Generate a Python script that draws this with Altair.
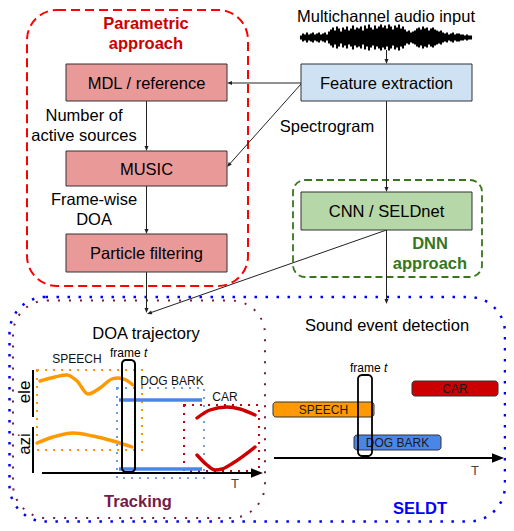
import math
import altair as alt
import pandas as pd

FONT = "Liberation Sans"
W, H = 498, 515

# ---------------- data ----------------
# filled process boxes
box_x1 = [66, 66, 66, 301, 301]
box_x2 = [227, 227, 227, 472, 472]
box_y1 = [64, 151, 234, 64, 192]
box_y2 = [101, 186, 272, 101, 230]
box_fill = ["#ea9999", "#ea9999", "#ea9999", "#cfe2f3", "#b6d7a8"]
box_labels = ["MDL / reference", "MUSIC", "Particle filtering", "Feature extraction", "CNN / SELDnet"]

# connectors (start x, start y, end x, end y) – arrowhead at end
conn_x1 = [301, 301, 146.5, 146.5, 146.5, 386.5, 386.5, 386.5, 386.5]
conn_y1 = [83, 84, 101, 186, 272, 101, 230, 230, 50]
conn_x2 = [227, 227, 146.5, 146.5, 146.5, 386.5, 386.5, 147, 386.5]
conn_y2 = [83, 167, 151, 234, 313, 192, 304, 314, 64]

# time axes
axis_x1 = [42, 274]
axis_y1 = [473, 458]
axis_x2 = [263, 504]
axis_y2 = [473, 458]

# waveform envelope (half amplitude, px) sampled every 2 px from x=301
wave_start = 301
wave_center = 37.5
wave_amp = [2, 4, 3, 5, 3, 4, 5, 3, 4, 5, 3, 4, 5, 3,
            6, 8,
            10, 7, 11, 9, 6, 10, 8, 11, 7, 9, 12, 8, 10,
            9, 11, 7, 12, 9, 13, 10, 8, 12, 9, 11, 13, 10, 12, 9,
            13, 11, 8, 12, 10, 13, 9, 11, 8,
            6, 7, 5, 6, 7,
            9, 10, 8, 11, 9, 10, 7, 9, 10, 8,
            7, 6, 7, 5,
            4, 5, 3, 4, 5, 3, 4, 4, 3,
            3, 2, 3, 2, 2]

# DOA trajectory curves
speech_ele_x = [40, 55, 67, 77, 88, 100, 112, 118, 126, 133]
speech_ele_y = [381, 377, 375, 381, 394, 388, 379, 378, 380, 385]
speech_azi_x = [37, 53, 73, 93, 113, 132]
speech_azi_y = [443, 437, 433, 436, 441, 447]
car_ele_x = [197, 210, 227, 240, 255]
car_ele_y = [418, 410, 407, 409, 415]
car_azi_x = [197, 207, 215, 222, 233, 255]
car_azi_y = [455, 465, 470, 469, 463, 447]
dog_x1 = [119, 119]
dog_x2 = [202, 202]
dog_y = [400, 469]

# ele / azi bars
bar_x = [33, 33]
bar_y1 = [370, 427]
bar_y2 = [417, 473]

# sound event detection bars
sed_labels = ["CAR", "SPEECH", "DOG BARK"]
sed_x1 = [412, 273, 354]
sed_x2 = [498, 374, 441]
sed_y1 = [381, 402, 435]
sed_y2 = [396, 417, 450]
sed_fill = ["#cc0000", "#ff9900", "#4a86e8"]

# ---------------- helpers ----------------
XS = alt.Scale(domain=[8, 506], range=[0, W], nice=False, zero=False)
YS = alt.Scale(domain=[8, 523], range=[0, H], nice=False, zero=False)


def X(f):
    return alt.X(f"{f}:Q", scale=XS, axis=None)


def Y(f):
    return alt.Y(f"{f}:Q", scale=YS, axis=None)


def rects(df, **mark):
    return alt.Chart(df).mark_rect(**mark).encode(
        x=X("x1"), x2=alt.X2("x2:Q"), y=Y("y1"), y2=alt.Y2("y2:Q"))


def outline(x1, x2, y1, y2, color, width, dash, radius):
    df = pd.DataFrame({"x1": [x1], "x2": [x2], "y1": [y1], "y2": [y2]})
    return rects(df, fill="white", fillOpacity=0, stroke=color, strokeWidth=width,
                 strokeDash=dash, cornerRadius=radius)


def rules(df):
    return alt.Chart(df).mark_rule(strokeCap="butt").encode(
        x=X("x1"), x2=alt.X2("x2:Q"), y=Y("y1"), y2=alt.Y2("y2:Q"),
        color=alt.Color("col:N", scale=None),
        strokeWidth=alt.StrokeWidth("w:Q", scale=None))


ARROW = "M0,0L-1,-0.4L-1,0.4Z"


def arrows(x1s, y1s, x2s, y2s, width, size, color):
    seg, head = [], []
    hl = math.sqrt(size) / 2
    for a, b, c, d in zip(x1s, y1s, x2s, y2s):
        ang = math.atan2(d - b, c - a)
        seg.append({"x1": a, "y1": b, "x2": c - math.cos(ang) * hl * 0.6,
                    "y2": d - math.sin(ang) * hl * 0.6, "col": color, "w": width})
        head.append({"x": c, "y": d, "ang": math.degrees(ang) % 360, "sz": size, "col": color})
    hd = pd.DataFrame(head)
    heads = alt.Chart(hd).mark_point(shape=ARROW, filled=True, opacity=1, strokeWidth=0).encode(
        x=X("x"), y=Y("y"), angle=alt.Angle("ang:Q", scale=None),
        size=alt.Size("sz:Q", scale=None), color=alt.Color("col:N", scale=None))
    return [rules(pd.DataFrame(seg)), heads]


def texts(rows, align="center", weight="normal", style="normal"):
    df = pd.DataFrame(rows, columns=["text", "x", "y", "fs", "col", "ang"])
    return alt.Chart(df).mark_text(font=FONT, align=align, baseline="middle",
                                   fontWeight=weight, fontStyle=style).encode(
        x=X("x"), y=Y("y"), text="text:N",
        size=alt.Size("fs:Q", scale=None), color=alt.Color("col:N", scale=None),
        angle=alt.Angle("ang:Q", scale=None))


layers = []

# big enclosing dotted / dashed regions
layers.append(outline(9.5, 505, 297, 521.5, "#0000ff", 2.5, [2.5, 8.5], 36))
layers.append(outline(13, 265, 300.5, 518, "#741b47", 2, [2, 9], 34))
layers.append(outline(27, 248, 10, 286, "#ff0000", 2, [9, 5], 30))
layers.append(outline(293, 482, 180, 277, "#38761d", 1.8, [7, 4], 12))

# small dotted event boxes in the trajectory panel
layers.append(outline(37, 142, 370, 450, "#ff9900", 2, [2, 6], 0))
layers.append(outline(117, 204, 388, 478, "#6d9eeb", 2, [2, 6], 0))
layers.append(outline(184, 259, 405, 471, "#cc0000", 2, [2, 6], 0))

# waveform
wdf = pd.DataFrame({"x": [wave_start + 2 * i for i in range(len(wave_amp))], "a": wave_amp})
wdf["y1"] = wave_center - wdf["a"]
wdf["y2"] = wave_center + wdf["a"]
layers.append(alt.Chart(wdf).mark_rule(strokeWidth=2.1, color="#000000").encode(
    x=X("x"), y=Y("y1"), y2=alt.Y2("y2:Q")))

# connectors
layers += arrows(conn_x1, conn_y1, conn_x2, conn_y2, 1, 100, "#222222")

# process boxes
bdf = pd.DataFrame({"x1": box_x1, "x2": box_x2, "y1": box_y1, "y2": box_y2, "fill": box_fill})
layers.append(alt.Chart(bdf).mark_rect(stroke="#333333", strokeWidth=1).encode(
    x=X("x1"), x2=alt.X2("x2:Q"), y=Y("y1"), y2=alt.Y2("y2:Q"),
    fill=alt.Fill("fill:N", scale=None)))

# trajectories
cur = []
for name, xs, ys, col in [("se", speech_ele_x, speech_ele_y, "#ff9900"),
                          ("sa", speech_azi_x, speech_azi_y, "#ff9900"),
                          ("ce", car_ele_x, car_ele_y, "#cc0000"),
                          ("ca", car_azi_x, car_azi_y, "#cc0000")]:
    for a, b in zip(xs, ys):
        cur.append({"s": name, "x": a, "y": b, "col": col})
layers.append(alt.Chart(pd.DataFrame(cur)).mark_line(
    interpolate="monotone", strokeWidth=3.4, strokeCap="round").encode(
    x=X("x"), y=Y("y"), detail="s:N", color=alt.Color("col:N", scale=None)))

layers.append(rules(pd.DataFrame({"x1": dog_x1, "x2": dog_x2, "y1": dog_y, "y2": dog_y,
                                  "col": "#4a86e8", "w": 3.4})))

# ele / azi bars
layers.append(rules(pd.DataFrame({"x1": bar_x, "x2": bar_x, "y1": bar_y1, "y2": bar_y2,
                                  "col": "#000000", "w": 2})))

# time axes
layers += arrows(axis_x1, axis_y1, axis_x2, axis_y2, 2, 576, "#000000")

# SED bars
sdf = pd.DataFrame({"x1": sed_x1, "x2": sed_x2, "y1": sed_y1, "y2": sed_y2, "fill": sed_fill})
layers.append(alt.Chart(sdf).mark_rect(stroke="#333333", strokeWidth=1, cornerRadius=3).encode(
    x=X("x1"), x2=alt.X2("x2:Q"), y=Y("y1"), y2=alt.Y2("y2:Q"),
    fill=alt.Fill("fill:N", scale=None)))

# texts
FS = 16.5
normal_rows = [
    ["Multichannel audio input", 386, 16.5, FS, "#000000", 0],
    [box_labels[0], 146.5, 83.5, FS, "#000000", 0],
    [box_labels[1], 146.5, 169.5, FS, "#000000", 0],
    [box_labels[2], 146.5, 253.5, FS, "#000000", 0],
    [box_labels[3], 386.5, 83.5, FS, "#000000", 0],
    [box_labels[4], 386.5, 211.5, FS, "#000000", 0],
    ["Number of", 84, 116, FS, "#000000", 0],
    ["active sources", 84, 136, FS, "#000000", 0],
    ["Frame-wise", 94, 200, FS, "#000000", 0],
    ["DOA", 94, 220, FS, "#000000", 0],
    ["Spectrogram", 327, 127, FS, "#000000", 0],
    ["DOA trajectory", 146, 334, FS, "#000000", 0],
    ["Sound event detection", 387, 326, FS, "#000000", 0],
    ["ele", 25, 392, 17, "#000000", 270],
    ["azi", 25, 444, 17, "#000000", 270],
    ["SPEECH", 77, 358.5, 12, "#111111", 0],
    ["DOG BARK", 172, 380.5, 12, "#111111", 0],
    ["CAR", 225, 396.5, 12, "#111111", 0],
    [sed_labels[0], 455, 389, 12, "#1a1a1a", 0],
    [sed_labels[1], 323.5, 410, 12, "#1a1a1a", 0],
    [sed_labels[2], 397.5, 443, 12, "#1a1a1a", 0],
    ["T", 235, 483.5, 13, "#444444", 0],
    ["T", 475, 470.5, 13, "#444444", 0],
]
layers.append(texts(normal_rows))

bold_rows = [
    ["Parametric", 146, 24, FS, "#cc0000", 0],
    ["approach", 146, 44, FS, "#cc0000", 0],
    ["DNN", 430, 244, FS, "#38761d", 0],
    ["approach", 430, 264, FS, "#38761d", 0],
    ["Tracking", 138, 502, FS, "#741b47", 0],
    ["SELDT", 420, 509, FS, "#0000ff", 0],
]
layers.append(texts(bold_rows, weight="bold"))

layers.append(texts([["frame", 110, 352.5, 12, "#000000", 0],
                     ["frame", 350, 367.5, 12, "#000000", 0]], align="left"))
layers.append(texts([["t", 144, 352.5, 12, "#000000", 0],
                     ["t", 384, 367.5, 12, "#000000", 0]], align="left", style="italic"))

# frame t windows
layers.append(outline(122, 135, 360, 472, "#000000", 2, [1, 0], 4))
layers.append(outline(358, 372, 375, 456, "#000000", 1.8, [1, 0], 4))

chart = alt.layer(*layers).properties(
    width=W, height=H, padding=0, autosize=alt.AutoSizeParams(type="none")
).configure_view(strokeWidth=0)

chart.save("out.html", embed_options={"renderer": "svg", "actions": False})
